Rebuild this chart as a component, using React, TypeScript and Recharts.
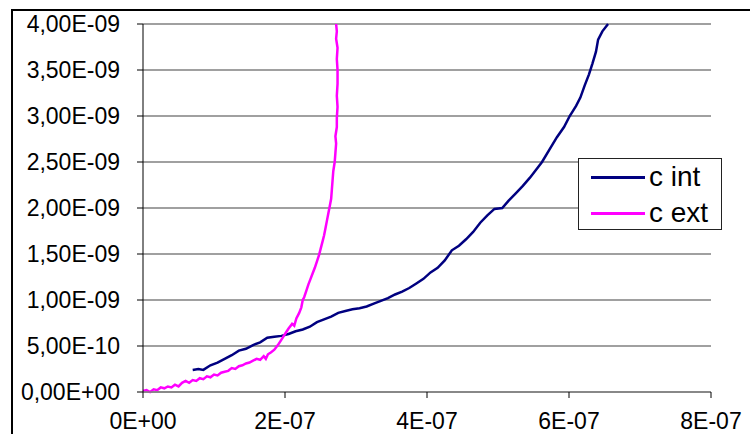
import { LineChart, Line, XAxis, YAxis, CartesianGrid, Legend } from 'recharts'

// x in units of 1E-07, y in units of 1E-09
const X_UNIT = 1e-7
const Y_UNIT = 1e-9

const xTicks = [0, 2, 4, 6, 8]
const yTicks = [0, 0.5, 1, 1.5, 2, 2.5, 3, 3.5, 4]

const cIntX = [
  0.7, 0.78, 0.85, 0.95, 1.05, 1.15, 1.25, 1.35, 1.45, 1.55, 1.65, 1.75, 1.85, 1.95, 2.05, 2.15, 2.25, 2.35,
  2.45, 2.55, 2.65, 2.75, 2.85, 2.95, 3.05, 3.15, 3.25, 3.35, 3.45, 3.55, 3.65, 3.75, 3.85, 3.95, 4.05, 4.15,
  4.25, 4.35, 4.45, 4.55, 4.65, 4.75, 4.85, 4.95, 5.06, 5.15, 5.25, 5.35, 5.45, 5.55, 5.62, 5.72, 5.83, 5.93,
  6.01, 6.1, 6.16, 6.22, 6.28, 6.33, 6.38, 6.41, 6.47, 6.55,
]
const cIntY = [
  0.24, 0.25, 0.24, 0.29, 0.32, 0.36, 0.4, 0.45, 0.47, 0.51, 0.54, 0.59, 0.6, 0.61, 0.63, 0.66, 0.68, 0.71,
  0.76, 0.79, 0.82, 0.86, 0.88, 0.9, 0.91, 0.93, 0.96, 0.99, 1.02, 1.06, 1.09, 1.13, 1.18, 1.23, 1.3, 1.35,
  1.43, 1.54, 1.59, 1.66, 1.74, 1.84, 1.92, 1.99, 2.0, 2.08, 2.16, 2.24, 2.33, 2.43, 2.5, 2.63, 2.77, 2.88,
  3.0, 3.11, 3.2, 3.33, 3.45, 3.57, 3.7, 3.83, 3.92, 4.0,
]

const cExtX = [
  0, 0.05, 0.1, 0.15, 0.2, 0.25, 0.3, 0.35, 0.4, 0.45, 0.5, 0.55, 0.6, 0.65, 0.7, 0.75, 0.8, 0.85, 0.9, 0.95,
  1.0, 1.05, 1.1, 1.15, 1.2, 1.25, 1.3, 1.35, 1.4, 1.45, 1.5, 1.55, 1.6, 1.65, 1.7, 1.73, 1.76, 1.8, 1.85,
  1.9, 1.95, 2.0, 2.05, 2.1, 2.13, 2.16, 2.2, 2.23, 2.25, 2.27, 2.3, 2.33, 2.36, 2.39, 2.42, 2.45, 2.48, 2.5,
  2.53, 2.55, 2.57, 2.59, 2.61, 2.63, 2.65, 2.66, 2.67, 2.68, 2.7, 2.71, 2.72, 2.71, 2.73, 2.73, 2.74, 2.73,
  2.74, 2.74, 2.73, 2.74, 2.72, 2.73, 2.72,
]
const cExtY = [
  0.01, 0.02, 0.0, 0.03, 0.02, 0.05, 0.04, 0.06, 0.05, 0.08, 0.06, 0.1, 0.12, 0.1, 0.13, 0.12, 0.15, 0.14,
  0.17, 0.16, 0.19, 0.18, 0.21, 0.22, 0.23, 0.26, 0.25, 0.28, 0.29, 0.31, 0.32, 0.34, 0.36, 0.35, 0.39, 0.36,
  0.41, 0.43, 0.46, 0.51, 0.57, 0.63, 0.69, 0.74, 0.72, 0.8, 0.86, 0.92, 1.0, 1.03, 1.1, 1.17, 1.23, 1.29,
  1.35, 1.42, 1.49, 1.55, 1.64, 1.7, 1.78, 1.86, 1.94, 2.02, 2.1, 2.2, 2.3, 2.4, 2.5, 2.6, 2.7, 2.78, 2.88,
  2.98, 3.1, 3.22, 3.35, 3.5, 3.62, 3.74, 3.84, 3.92, 4.0,
]

const series = [
  { name: 'c int', color: '#000080', data: cIntX.map((x, i) => ({ x, y: cIntY[i] })) },
  { name: 'c ext', color: '#ff00ff', data: cExtX.map((x, i) => ({ x, y: cExtY[i] })) },
]

const FONT = '"Liberation Sans", Arial, sans-serif'

// Excel style scientific notation: 3,50E-09
function sci(v: number, digits: number) {
  const [m, e] = v.toExponential(digits).split('e')
  const sign = e.startsWith('-') ? '-' : '+'
  const exp = e.replace(/^[-+]/, '').padStart(2, '0')
  return `${m.replace('.', ',')}E${sign}${exp}`
}

function LegendBox() {
  return (
    <div
      style={{
        width: 142,
        height: 70,
        border: '1.5px solid #222',
        background: '#fff',
        fontFamily: FONT,
        fontSize: 28,
        color: '#000',
        boxSizing: 'content-box',
      }}
    >
      {series.map((s) => (
        <div key={s.name} style={{ display: 'flex', alignItems: 'center', height: 36, paddingLeft: 12 }}>
          <div style={{ width: 54, height: 3, background: s.color, marginRight: 4 }} />
          <span>{s.name}</span>
        </div>
      ))}
    </div>
  )
}

export default function App() {
  return (
    <div style={{ position: 'absolute', left: 0, top: 0, width: 750, height: 434, overflow: 'hidden', background: '#fff' }}>
      <div
        style={{ position: 'absolute', left: 11, top: 9, width: 800, height: 500, border: '2px solid #000' }}
      />
      <div style={{ position: 'absolute', left: 0, top: 0 }}>
        <LineChart width={750} height={434} margin={{ top: 24, right: 39, left: 0, bottom: 0 }}>
          <CartesianGrid vertical={false} stroke="#808080" strokeWidth={1.5} />
          <XAxis
            type="number"
            dataKey="x"
            domain={[0, 8]}
            ticks={xTicks}
            tickFormatter={(v) => sci(v * X_UNIT, 0)}
            height={42}
            tickSize={6}
            tickMargin={15}
            axisLine={{ stroke: '#808080', strokeWidth: 1.5 }}
            tickLine={{ stroke: '#000' }}
            tick={{ fill: '#000', fontSize: 23, fontFamily: FONT }}
            interval={0}
          />
          <YAxis
            type="number"
            dataKey="y"
            domain={[0, 4]}
            ticks={yTicks}
            tickFormatter={(v) => sci(v * Y_UNIT, 2)}
            width={143}
            tickSize={6}
            tickMargin={17}
            axisLine={{ stroke: '#000' }}
            tickLine={{ stroke: '#000' }}
            tick={{ fill: '#000', fontSize: 23, fontFamily: FONT }}
            interval={0}
          />
          <Legend
            layout="horizontal"
            align="center"
            verticalAlign="middle"
            content={() => <LegendBox />}
            wrapperStyle={{ left: 578, top: 158, width: 'auto' }}
          />
          {series.map((s) => (
            <Line
              key={s.name}
              name={s.name}
              data={s.data}
              dataKey="y"
              type="linear"
              stroke={s.color}
              strokeWidth={2.5}
              dot={false}
              isAnimationActive={false}
            />
          ))}
        </LineChart>
      </div>
    </div>
  )
}
